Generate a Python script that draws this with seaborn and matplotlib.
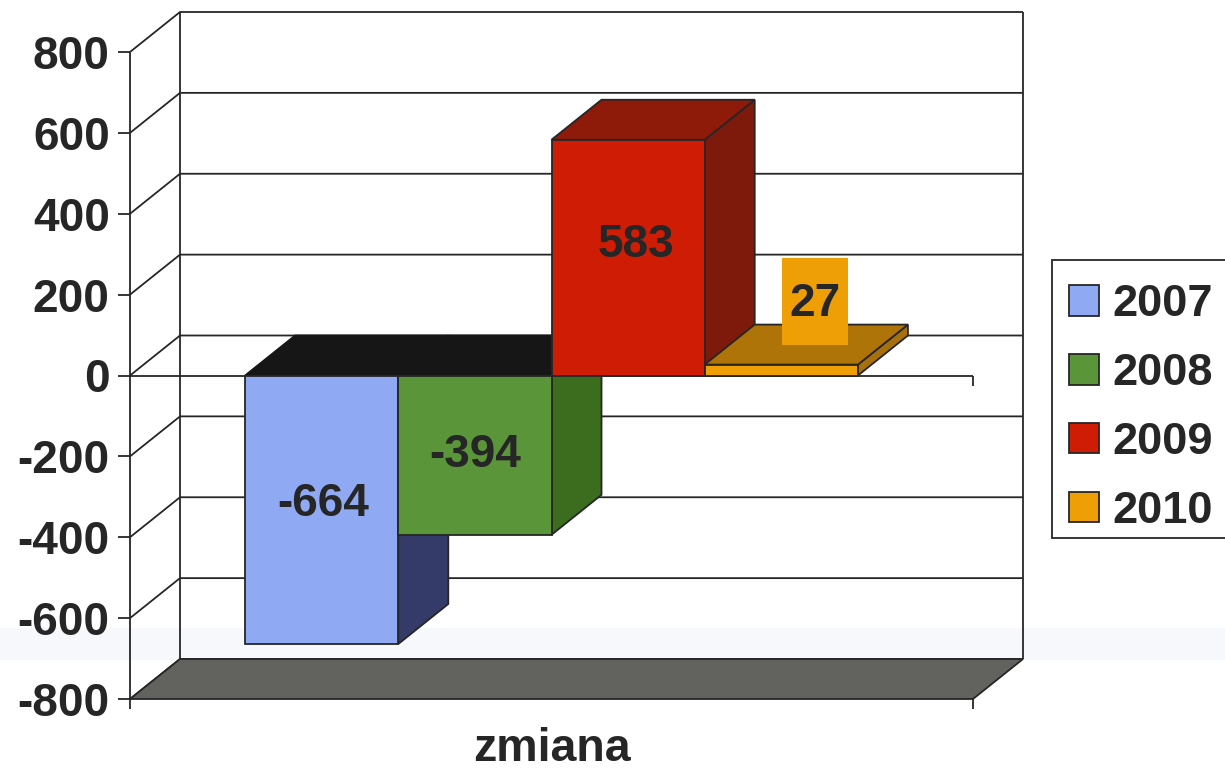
import matplotlib
matplotlib.use("Agg")
import matplotlib.pyplot as plt
from matplotlib.patches import Polygon, Rectangle
import pandas as pd
import seaborn as sns

# ---- data ----
years = ["2007", "2008", "2009", "2010"]
values = [-664, -394, 583, 27]
category = "zmiana"
y_ticks = [-800, -600, -400, -200, 0, 200, 400, 600, 800]
y_tick_labels = ["-800", "-600", "-400", "-200", "0", "200", "400", "600", "800"]
front_colors = ["#8FAAF2", "#5B9539", "#CF1D05", "#EE9F05"]
top_colors = ["#161616", "#161616", "#8E1A0A", "#AE7408"]
side_colors = ["#343B68", "#3C6C1E", "#7E1A0C", "#A8700C"]
# label offsets from bar centre, in pixels
label_dx = [2, 0, 8, 34]
label_dy = [6, 0, 13, 66]

# ---- style ----
sns.set_theme(style="white")
plt.rcParams["font.family"] = ["Liberation Sans", "DejaVu Sans"]
plt.rcParams["font.weight"] = "bold"
INK = "#262626"
LW = 1.3

W, H = 1225, 772
L, R, T, B = 130, 973, 52, 699
fig = plt.figure(figsize=(W / 100, H / 100), dpi=100, facecolor="white")
ax = fig.add_axes([L / W, 1 - B / H, (R - L) / W, (B - T) / H])
ax.patch.set_alpha(0)
ax.set_zorder(10)
fig.add_artist(Rectangle((0, 1 - 660 / H), 1, 32 / H, transform=fig.transFigure,
                         color="#F6F8FC", lw=0, zorder=-5))

df = pd.DataFrame({"cat": [category] * 4, "year": years, "val": values})
sns.barplot(data=df, x="cat", y="val", hue="year", hue_order=years,
            palette=front_colors, width=0.727, gap=0, saturation=1,
            edgecolor=INK, linewidth=LW, ax=ax, errorbar=None)

ax.set_xlim(-0.5, 0.5)
ax.set_ylim(-800, 800)
ax.set_yticks(y_ticks)
ax.set_yticklabels(y_tick_labels)
ax.set_ylabel("")
ax.set_xlabel("")
PX = 1.0 / (R - L)
PY = 1600.0 / (B - T)
DX, DY = 50 * PX, 40 * PY

for s in ["top", "right", "bottom"]:
    ax.spines[s].set_visible(False)
ax.spines["left"].set_color(INK)
ax.spines["left"].set_linewidth(LW)
ax.tick_params(axis="y", length=8.6, width=LW, color=INK, labelsize=33,
               labelcolor=INK, pad=6, left=True)
ax.tick_params(axis="x", length=0, labelsize=33.5, labelcolor=INK, pad=20)
for lab in ax.get_yticklabels() + ax.get_xticklabels():
    lab.set_fontweight("bold")


def line(xs, ys, z=1):
    ax.plot(xs, ys, color=INK, lw=LW, clip_on=False, zorder=z, solid_capstyle="butt")


def face(pts, color, z, edge=INK):
    ax.add_patch(Polygon(pts, closed=True, facecolor=color, edgecolor=edge,
                         linewidth=LW, clip_on=False, zorder=z))


xl, xr = -0.5, 0.5
# walls
for v in y_ticks:
    line([xl, xl + DX, xr + DX], [v, v + DY, v + DY])
line([xl + DX, xl + DX], [-800 + DY, 800 + DY])
line([xr + DX, xr + DX], [-800 + DY, 800 + DY])
# front zero line and end ticks
line([xl, xr], [0, 0])
line([xr, xr], [0, -10 * PY])
line([xl, xl], [-800, -800 - 10 * PY])
line([xr, xr], [-800, -800 - 10 * PY])
# floor
face([(xl, -800), (xr, -800), (xr + DX, -800 + DY), (xl + DX, -800 + DY)], "#62625E", 2)

# 3-D faces of bars
bars = [b for c in ax.containers for b in c]
for i, bar in enumerate(bars):
    a, b = bar.get_x(), bar.get_x() + bar.get_width()
    v = values[i]
    t = max(v, 0)
    z = 3 + 2 * i
    face([(b, 0), (b, v), (b + DX, v + DY), (b + DX, DY)], side_colors[i], z)
    top_edge = top_colors[i] if v < 0 else INK
    face([(a, t), (b, t), (b + DX, t + DY), (a + DX, t + DY)], top_colors[i], z, top_edge)
    bar.set_zorder(z + 1)
    cx = (a + b) / 2 + label_dx[i] * PX
    cy = v / 2 + label_dy[i] * PY
    if i == 3:
        ax.add_patch(Rectangle((cx - 33 * PX, cy - 41 * PY), 66 * PX, 87 * PY,
                               facecolor=front_colors[i], edgecolor="none",
                               clip_on=False, zorder=20))
    ax.text(cx, cy, str(v), ha="center", va="center", fontsize=33, fontweight="bold",
            color=INK, zorder=21)

# legend: frame drawn separately, entries placed inside it
fig.add_artist(Rectangle((1052 / W, 1 - 538 / H), 180 / W, 278 / H, transform=fig.transFigure,
                         facecolor="white", edgecolor=INK, linewidth=LW, zorder=5))
handles, labels = ax.get_legend_handles_labels()
leg = ax.legend(handles, labels, loc="upper left", ncol=1,
                bbox_to_anchor=(1052 / W, 1 - 267 / H), bbox_transform=fig.transFigure,
                fontsize=32.5, frameon=False, borderaxespad=0, borderpad=0.38,
                labelspacing=0.62, handlelength=0.66, handleheight=0.66,
                handletextpad=0.3)
leg.set_zorder(30)
for t in leg.get_texts():
    t.set_color(INK)
    t.set_fontweight("bold")

fig.savefig("out.png", dpi=100)
